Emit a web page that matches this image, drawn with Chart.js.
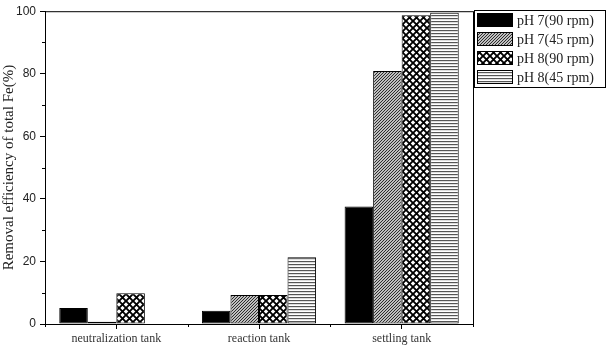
<!DOCTYPE html>
<html>
<head>
<meta charset="utf-8">
<script src="https://cdn.jsdelivr.net/npm/chart.js@4.4.1/dist/chart.umd.min.js"></script>
<style>
  html, body { margin: 0; padding: 0; background: #fff; }
  #wrap { width: 607px; height: 351px; }
</style>
</head>
<body>
<div id="wrap"><canvas id="chart" width="607" height="351"></canvas></div>
<script>
// 数据
const categories = ['neutralization tank', 'reaction tank', 'settling tank'];
const seriesLabels = ['pH 7(90 rpm)', 'pH 7(45 rpm)', 'pH 8(90 rpm)', 'pH 8(45 rpm)'];
const ph7rpm90 = [5.1, 4.2, 37.6];
const ph7rpm45 = [0.7, 9.3, 80.9];
const ph8rpm90 = [9.8, 9.3, 98.7];
const ph8rpm45 = [0, 21.3, 99.5];
const yMinorTicks = [10, 30, 50, 70, 90];

// 填充图案
function makeTile(w, h, draw) {
    const c = document.createElement('canvas');
    c.width = w; c.height = h;
    const g = c.getContext('2d');
    g.fillStyle = '#fff';
    g.fillRect(0, 0, w, h);
    draw(g);
    return document.getElementById('chart').getContext('2d').createPattern(c, 'repeat');
}

const solidFill = '#000';
const hatchFill = makeTile(3, 3, g => {
    g.strokeStyle = '#222';
    g.lineWidth = 1.1;
    g.beginPath();
    g.moveTo(-1, 4); g.lineTo(4, -1);
    g.moveTo(-1, 1); g.lineTo(1, -1);
    g.moveTo(2, 4); g.lineTo(4, 2);
    g.stroke();
});
const crossFill = makeTile(7, 7, g => {
    g.strokeStyle = '#000';
    g.lineWidth = 1.9;
    g.beginPath();
    g.moveTo(-1, -1); g.lineTo(8, 8);
    g.moveTo(8, -1); g.lineTo(-1, 8);
    g.stroke();
});
const stripeFill = makeTile(3, 3, g => {
    g.fillStyle = '#555';
    g.fillRect(0, 0, 3, 1.2);
});
const fills = [solidFill, hatchFill, crossFill, stripeFill];

// 边框、次刻度和图例
const framePlugin = {
    id: 'frame',
    afterDraw(chart) {
        const { ctx, chartArea: a, scales: { x, y } } = chart;
        ctx.save();
        ctx.strokeStyle = '#000';
        ctx.lineWidth = 1;
        ctx.strokeRect(a.left + 0.5, a.top + 0.5, a.right - a.left, a.bottom - a.top);

        ctx.beginPath();
        yMinorTicks.forEach(v => {
            const py = Math.round(y.getPixelForValue(v)) + 0.5;
            ctx.moveTo(a.left - 3, py);
            ctx.lineTo(a.left, py);
        });
        [-0.5, 0.5, 1.5, 2.5].forEach(v => {
            const px = Math.round(x.getPixelForValue(v)) + 0.5;
            ctx.moveTo(px, a.bottom);
            ctx.lineTo(px, a.bottom + 3);
        });
        ctx.stroke();

        // 图例
        const lx = 474, ly = 10, lw = 131, lh = 77;
        ctx.strokeRect(lx + 0.5, ly + 0.5, lw, lh);
        ctx.font = '14px "Liberation Serif", "Times New Roman", serif';
        ctx.textBaseline = 'middle';
        ctx.textAlign = 'left';
        chart.data.datasets.forEach((ds, i) => {
            const cy = 20 + i * 19;
            ctx.fillStyle = ds.backgroundColor;
            ctx.fillRect(477, cy - 6.5, 35, 13);
            ctx.strokeRect(477.5, cy - 6.5, 35, 13);
            ctx.fillStyle = '#222';
            ctx.fillText(ds.label, 517, cy + 1);
        });
        ctx.restore();
    }
};

const seriesValues = [ph7rpm90, ph7rpm45, ph8rpm90, ph8rpm45];

new Chart(document.getElementById('chart').getContext('2d'), {
    type: 'bar',
    data: {
        labels: categories,
        datasets: seriesLabels.map((label, i) => ({
            label: label,
            data: seriesValues[i],
            backgroundColor: fills[i],
            borderColor: '#000',
            borderWidth: 1,
            borderSkipped: false,
            categoryPercentage: 0.8,
            barPercentage: 1.0
        }))
    },
    options: {
        responsive: false,
        animation: false,
        layout: { padding: { top: 9, right: 134, left: 0, bottom: 0 } },
        plugins: {
            legend: { display: false },
            tooltip: { enabled: false }
        },
        scales: {
            x: {
                afterFit: s => { s.height = 27; },
                grid: { offset: false, drawOnChartArea: false, color: '#000', tickLength: 5 },
                border: { color: '#000' },
                ticks: {
                    color: '#333',
                    padding: 3,
                    maxRotation: 0,
                    font: { family: '"Liberation Serif", "Times New Roman", serif', size: 12 }
                }
            },
            y: {
                min: 0,
                max: 100,
                afterFit: s => { s.width = 45; },
                grid: { drawOnChartArea: false, color: '#000', tickLength: 5 },
                border: { color: '#000' },
                ticks: {
                    stepSize: 20,
                    color: '#222',
                    padding: 4,
                    font: { family: '"Liberation Sans", Arial, sans-serif', size: 12 }
                },
                title: {
                    display: true,
                    text: 'Removal efficiency of total Fe(%)',
                    color: '#222',
                    padding: { top: 0, bottom: 0 },
                    font: { family: '"Liberation Serif", "Times New Roman", serif', size: 15 }
                }
            }
        }
    },
    plugins: [framePlugin]
});
</script>
</body>
</html>
